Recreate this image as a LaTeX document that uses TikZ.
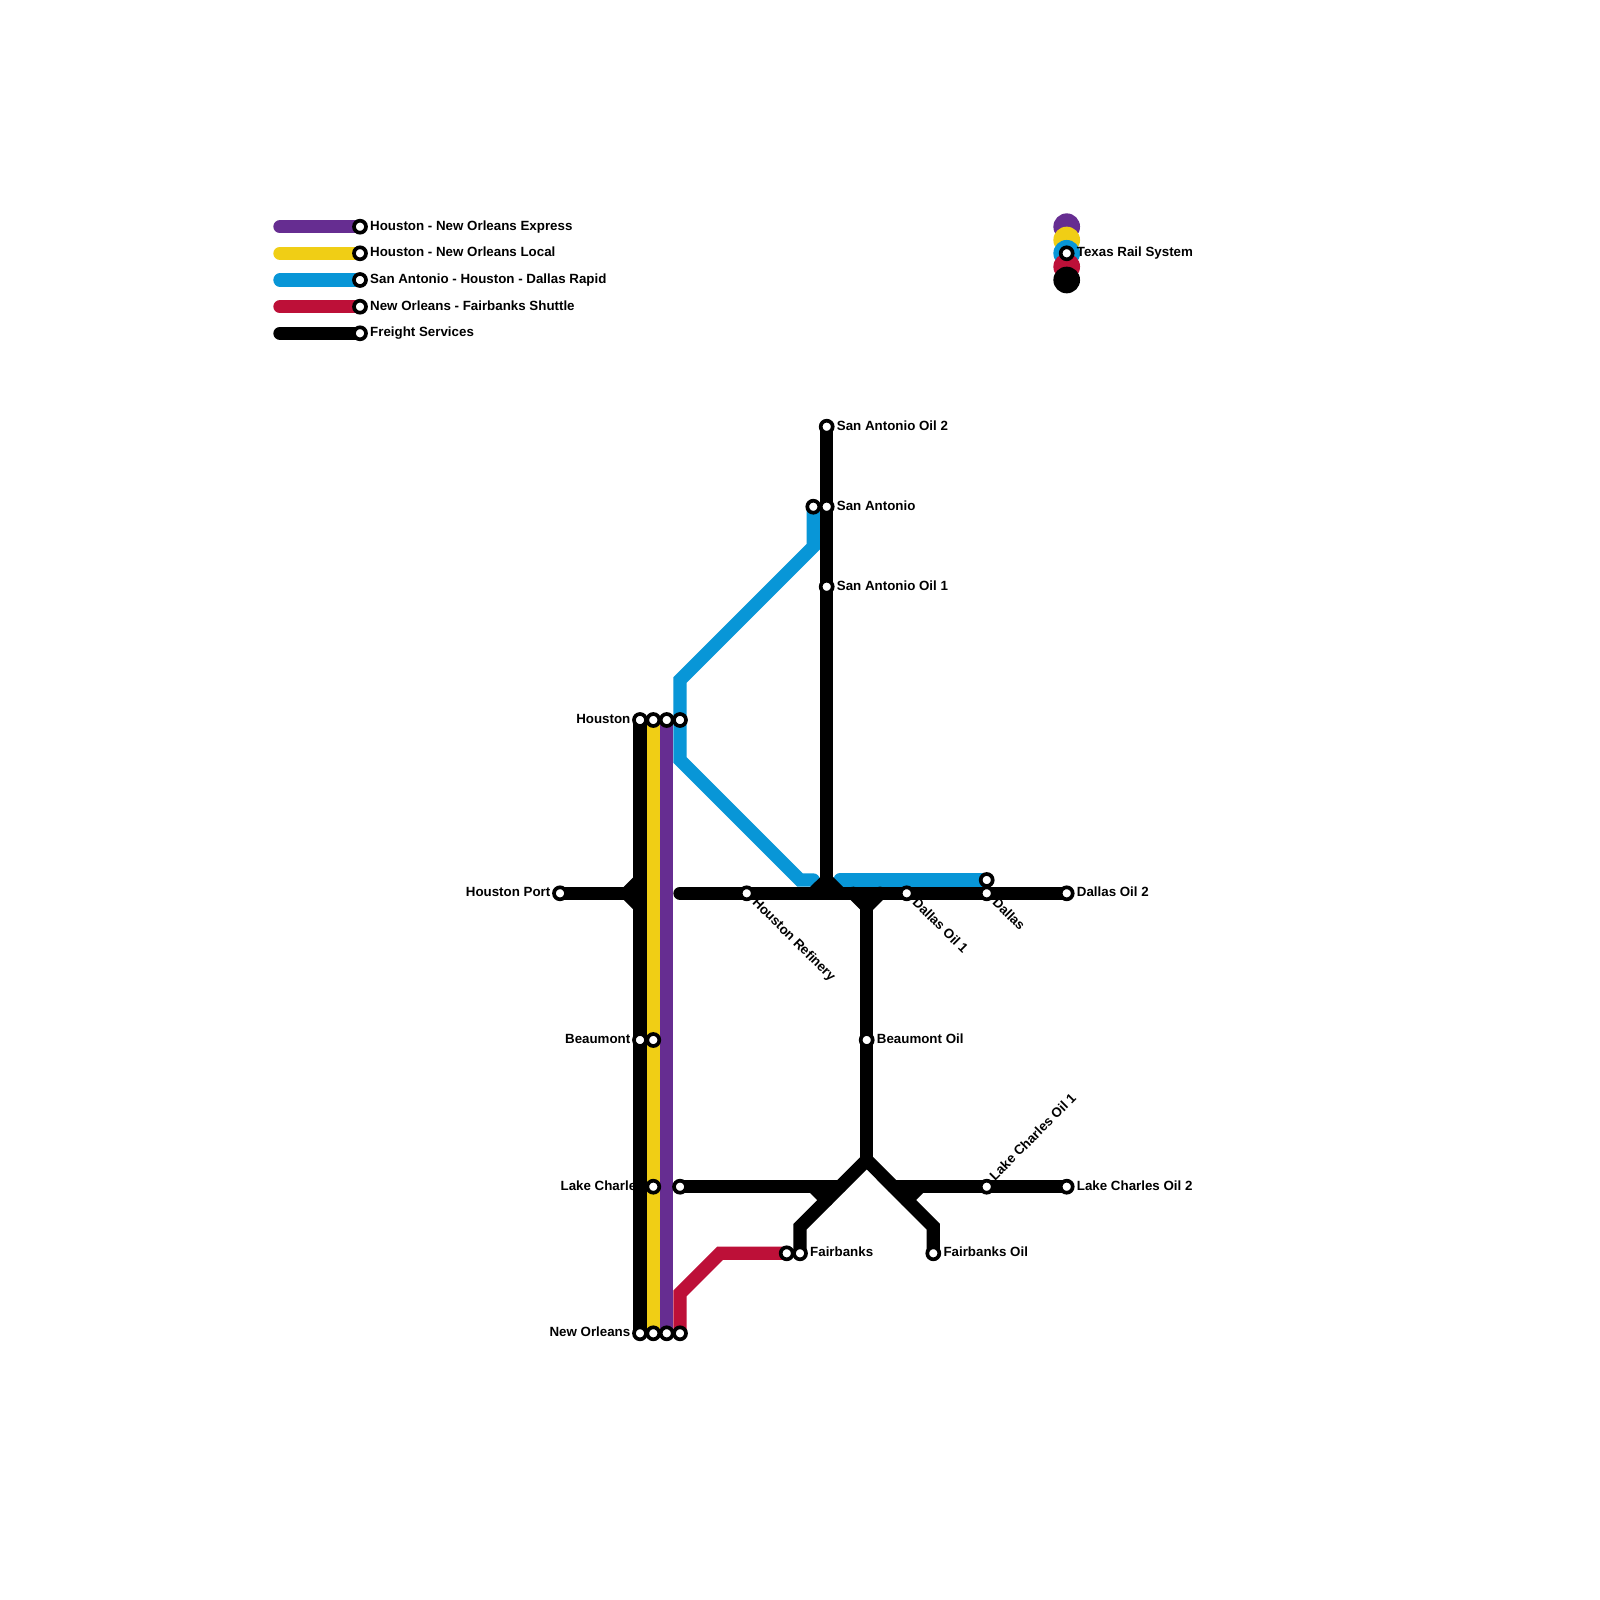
\documentclass[tikz,border=0pt]{standalone}
\usepackage{fontspec}
\setmainfont{Liberation Sans}
\definecolor{cpurple}{HTML}{662D91}
\definecolor{cyellow}{HTML}{F0CE15}
\definecolor{cblue}{HTML}{0896D7}
\definecolor{cred}{HTML}{BD1038}
\tikzset{
  route/.style={line width=13.33pt,line cap=round,line join=miter,miter limit=10},
  stn/.style={circle,draw=black,fill=white,line width=3.7pt,minimum size=12pt,inner sep=0pt},
  lbl/.style={font=\fontsize{13.33}{15}\selectfont\bfseries,inner sep=0pt,text=black},
  lblr/.style={lbl,anchor=base west},
  lbll/.style={lbl,anchor=base east},
  logodot/.style={circle,inner sep=0pt,minimum size=26.67pt},
}
\begin{document}
\begin{tikzpicture}[x=1pt,y=-1pt]
\useasboundingbox (0,0) rectangle (1600,1600);
\fill[white] (0,0) rectangle (1600,1600);
% logo
\node[logodot,fill=cpurple] (logoA) at (1066.7,226.7) {};
\node[logodot,fill=cyellow] (logoB) at (1066.7,240) {};
\node[logodot,fill=cblue] (logoC) at (1066.7,253.3) {};
\node[logodot,fill=cred] (logoD) at (1066.7,266.7) {};
\node[logodot,fill=black] (logoE) at (1066.7,280) {};
% labels
\node[lblr] (tL1) at (370,230.2) {Houston - New Orleans Express};
\node[lblr] (tL2) at (370,256.8) {Houston - New Orleans Local};
\node[lblr] (tL3) at (370,283.5) {San Antonio - Houston - Dallas Rapid};
\node[lblr] (tL4) at (370,310.2) {New Orleans - Fairbanks Shuttle};
\node[lblr] (tL5) at (370,336.8) {Freight Services};
\node[lblr] (tLogo) at (1076.7,256.8) {Texas Rail System};
\node[lblr] (tSA2) at (836.7,430.2) {San Antonio Oil 2};
\node[lblr] (tSA) at (836.7,510.2) {San Antonio};
\node[lblr] (tSA1) at (836.7,590.2) {San Antonio Oil 1};
\node[lbll] (tHou) at (630.5,723.5) {Houston};
\node[lbll] (tHP) at (550.5,896.8) {Houston Port};
\node[lbll] (tBeau) at (630.5,1043.5) {Beaumont};
\node[lbll] (tLC) at (643.8,1190.2) {Lake Charles};
\node[lbll] (tNO) at (630.5,1336.8) {New Orleans};
\node[lblr] (tDO2) at (1076.7,896.8) {Dallas Oil 2};
\node[lblr] (tBO) at (876.7,1043.5) {Beaumont Oil};
\node[lblr] (tLC2) at (1076.7,1190.2) {Lake Charles Oil 2};
\node[lblr] (tFb) at (810,1256.8) {Fairbanks};
\node[lblr] (tFO) at (943.3,1256.8) {Fairbanks Oil};
\node[lblr,rotate=-45] (tHR) at (751.6,903.2) {Houston Refinery};
\node[lblr,rotate=-45] (tDO1) at (911.6,903.2) {Dallas Oil 1};
\node[lblr,rotate=-45] (tD) at (991.6,903.2) {Dallas};
\node[lblr,rotate=45] (tLC1) at (995,1181.2) {Lake Charles Oil 1};
% stops
\coordinate (Ls1) at (280,226.7); \coordinate (Le1) at (360,226.7);
\coordinate (Ls2) at (280,253.3); \coordinate (Le2) at (360,253.3);
\coordinate (Ls3) at (280,280);   \coordinate (Le3) at (360,280);
\coordinate (Ls4) at (280,306.7); \coordinate (Le4) at (360,306.7);
\coordinate (Ls5) at (280,333.3); \coordinate (Le5) at (360,333.3);
\coordinate (HouK) at (640,720); \coordinate (HouY) at (653.3,720); \coordinate (HouP) at (666.7,720); \coordinate (HouB) at (680,720);
\coordinate (NoK) at (640,1333.3); \coordinate (NoY) at (653.3,1333.3); \coordinate (NoP) at (666.7,1333.3); \coordinate (NoR) at (680,1333.3);
\coordinate (BeK) at (640,1040); \coordinate (BeY) at (653.3,1040);
\coordinate (LcY) at (653.3,1186.7); \coordinate (LcK) at (680,1186.7);
\coordinate (HP) at (560,893.3);
\coordinate (HR) at (746.7,893.3);
\coordinate (DO1) at (906.7,893.3);
\coordinate (DaB) at (986.7,880); \coordinate (DaK) at (986.7,893.3);
\coordinate (DO2) at (1066.7,893.3);
\coordinate (SO2) at (826.7,426.7);
\coordinate (SaB) at (813.3,506.7); \coordinate (SaK) at (826.7,506.7);
\coordinate (SO1) at (826.7,586.7);
\coordinate (BO) at (866.7,1040);
\coordinate (LO1) at (986.7,1186.7); \coordinate (LO2) at (1066.7,1186.7);
\coordinate (FbR) at (786.7,1253.3); \coordinate (FbK) at (800,1253.3);
\coordinate (FO) at (933.3,1253.3);
\coordinate (LogoS) at (1066.7,253.3);
% bends
\coordinate (b1) at (813.3,546.7); \coordinate (b2) at (680,680); \coordinate (b3) at (680,760);
\coordinate (b4) at (800,880); \coordinate (b5) at (813.3,880); \coordinate (b6) at (840,880);
\coordinate (r1) at (680,1293.3); \coordinate (r2) at (720,1253.3);
\coordinate (kW) at (640,893.3); \coordinate (kW1) at (626.7,893.3); \coordinate (kW2) at (640,880); \coordinate (kW3) at (640,906.7);
\coordinate (kH) at (680,893.3);
\coordinate (kS) at (826.7,880); \coordinate (kS1) at (813.3,893.3); \coordinate (kS2) at (840,893.3);
\coordinate (kB) at (866.7,906.7); \coordinate (kB1) at (853.3,893.3); \coordinate (kB2) at (880,893.3);
\coordinate (kY) at (866.7,1160); \coordinate (kL1) at (800,1226.7); \coordinate (kR1) at (933.3,1226.7);
\coordinate (kA) at (840,1186.7); \coordinate (kA1) at (813.3,1186.7); \coordinate (kA2) at (826.7,1200);
\coordinate (kC) at (893.3,1186.7); \coordinate (kC1) at (920,1186.7); \coordinate (kC2) at (906.7,1200);
% legend lines
\draw[route,cpurple] (Ls1) -- (Le1);
\draw[route,cyellow] (Ls2) -- (Le2);
\draw[route,cblue] (Ls3) -- (Le3);
\draw[route,cred] (Ls4) -- (Le4);
\draw[route,black] (Ls5) -- (Le5);
% routes
\draw[route,cblue] (SaB) -- (b1) -- (b2) -- (b3) -- (b4) -- (b5);
\draw[route,cblue] (b6) -- (DaB);
\draw[route,cred] (NoR) -- (r1) -- (r2) -- (FbR);
\draw[route,cpurple] (HouP) -- (NoP);
\draw[route,cyellow] (HouY) -- (NoY);
\draw[route,black] (HouK) -- (NoK);
\draw[route,black] (HP) -- (kW);
\draw[route,black] (kW1) -- (kW2);
\draw[route,black] (kW1) -- (kW3);
\draw[route,black] (kH) -- (DO2);
\draw[route,black] (SO2) -- (kS);
\draw[route,black] (kS1) -- (kS) -- (kS2);
\draw[route,black] (kB1) -- (kB) -- (kB2);
\draw[route,black] (kB) -- (kY);
\draw[route,black] (FbK) -- (kL1) -- (kY) -- (kR1) -- (FO);
\draw[route,black] (LcK) -- (kA);
\draw[route,black] (kA1) -- (kA2);
\draw[route,black] (kC) -- (LO2);
\draw[route,black] (kC1) -- (kC2);
% stations
\foreach \s in {Le1,Le2,Le3,Le4,Le5,HouK,HouY,HouP,HouB,NoK,NoY,NoP,NoR,BeK,BeY,LcY,LcK,HP,HR,DO1,DaB,DaK,DO2,SO2,SaB,SaK,SO1,BO,LO1,LO2,FbR,FbK,FO,LogoS}
  \node[stn] (st\s) at (\s) {};
\end{tikzpicture}
\end{document}
